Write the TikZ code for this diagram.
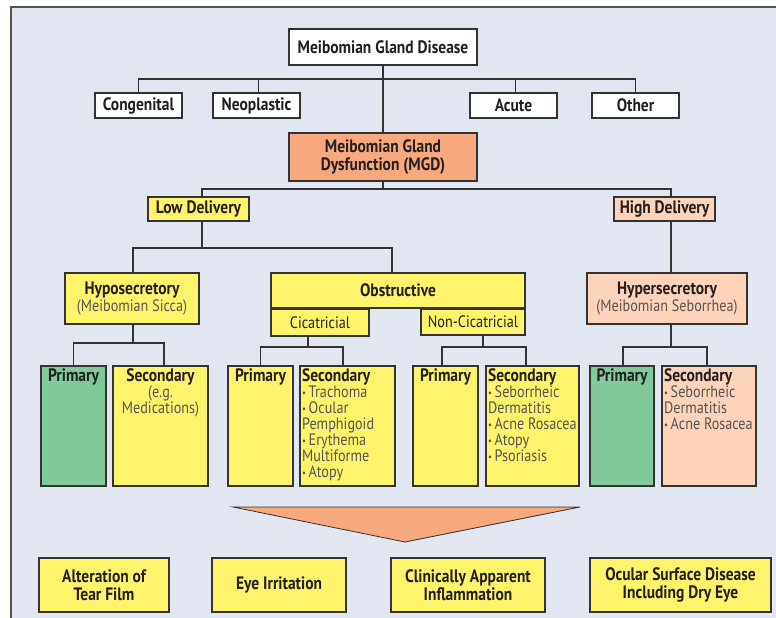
\documentclass[tikz,border=0pt]{standalone}
\usepackage{fontspec}
\setmainfont{PT Sans}[FakeStretch=0.86]
\definecolor{bgc}{HTML}{E2E6F1}
\definecolor{framec}{HTML}{555555}
\definecolor{linec}{HTML}{333333}
\definecolor{yel}{HTML}{FFF36B}
\definecolor{ora}{HTML}{F8A87D}
\definecolor{pea}{HTML}{FDD3B9}
\definecolor{grn}{HTML}{80C99B}
\definecolor{textc}{HTML}{231F20}
\definecolor{grayt}{HTML}{555555}
\newcommand\bul{\raisebox{1.5pt}{\fontsize{10}{10}\selectfont•}\,}
\newcommand\lite{\fontsize{16.5}{16}\selectfont\mdseries\color{grayt}}
\newcommand\hd[1]{{\fontsize{18}{16}\selectfont\bfseries\color{textc}#1}}
\tikzset{
  box/.style={draw=linec, line width=1.2pt, inner sep=0pt, text=textc, align=center,
    font=\fontsize{18}{18}\selectfont\bfseries},
  wire/.style={draw=linec, line width=1.2pt},
  lbl/.style={inner sep=0pt, text=textc, font=\fontsize{18}{16}\selectfont\bfseries},
  items/.style={inner sep=0pt, font=\lite, align=left, anchor=north west},
}
\begin{document}
\begin{tikzpicture}[x=1pt,y=-1pt]
\useasboundingbox (0,0) rectangle (776,618);
\fill[bgc] (11,7) rectangle (780,622);
\draw[framec, line width=2pt] (11,622) -- (11,7) -- (780,7);

% top level
\node[box, fill=white, minimum width=188pt, minimum height=36pt] (mgdis) at (383,47) {Meibomian Gland Disease};
\node[box, fill=white, minimum width=87pt, minimum height=25pt] (cong) at (138.5,105.5) {Congenital};
\node[box, fill=white, minimum width=87pt, minimum height=25pt] (neo) at (256.5,105.5) {Neoplastic};
\node[box, fill=white, minimum width=87pt, minimum height=25pt] (acu) at (513.5,105.5) {Acute};
\node[box, fill=white, minimum width=87pt, minimum height=25pt] (oth) at (635.5,105.5) {Other};
\node[box, fill=ora, minimum width=188pt, minimum height=48pt] (mgd) at (383,157) {Meibomian Gland\\Dysfunction (MGD)};

\coordinate (j1) at (383,79);
\draw[wire] (cong.north) |- (j1) -| (oth.north);
\draw[wire] ([xshift=2pt]neo.north) |- (j1);
\draw[wire] ([xshift=2pt]acu.north) |- (j1);
\draw[wire] (mgdis.south) -- (mgd.north);

% delivery
\node[box, fill=yel, minimum width=101pt, minimum height=24pt] (low) at (198.5,209) {Low Delivery};
\node[box, fill=pea, minimum width=101pt, minimum height=24pt] (high) at (664.5,209) {High Delivery};
\coordinate (j2) at (383,189);
\draw[wire] (mgd.south) -- (j2);
\draw[wire] ([xshift=3.5pt]low.north) |- (j2) -| ([xshift=6.5pt]high.north);

% second level
\node[box, fill=yel, minimum width=134pt, minimum height=51pt] (hypo) at (132,298.5) {Hyposecretory\\[-1pt]\lite(Meibomian Sicca)};
\node[box, fill=yel, minimum width=254pt, minimum height=35pt] (obs) at (398,290.5) {Obstructive};
\node[box, fill=yel, minimum width=98pt, minimum height=27pt, font=\lite] (cic) at (320,322.5) {Cicatricial};
\node[box, fill=yel, minimum width=104pt, minimum height=26pt, font=\lite] (ncic) at (473,322) {Non-Cicatricial};
\node[box, fill=pea, minimum width=160pt, minimum height=51pt] (hyper) at (667,298.5) {Hypersecretory\\[-1pt]\lite(Meibomian Seborrhea)};

\coordinate (j3) at (202,248);
\draw[wire] ([xshift=3.5pt]low.south) -- (j3);
\draw[wire] (j3) -| ([xshift=1pt]hypo.north);
\draw[wire] (j3) -| ([xshift=-6pt]obs.north);
\draw[wire] ([xshift=6.5pt]high.south) -- ([xshift=4pt]hyper.north);

% third level boxes
\tikzset{tall/.style={draw=linec, line width=1.2pt, inner sep=0pt, minimum height=120pt}}
\node[tall, fill=grn, minimum width=65pt] (hp1) at (73.5,426) {};
\node[tall, fill=yel, minimum width=95pt] (hp2) at (160.5,426) {};
\node[tall, fill=yel, minimum width=65pt] (cp1) at (260.5,426) {};
\node[tall, fill=yel, minimum width=95pt] (cp2) at (347.5,426) {};
\node[tall, fill=yel, minimum width=65pt] (np1) at (445.5,426) {};
\node[tall, fill=yel, minimum width=93pt] (np2) at (532.5,426) {};
\node[tall, fill=grn, minimum width=64pt] (rp1) at (622,426) {};
\node[tall, fill=pea, minimum width=94pt] (rp2) at (709,426) {};

\node[lbl, anchor=north] (hp1t) at ([yshift=-3.5pt]hp1.north) {Primary};
\node[items, anchor=north, align=center] (hp2t) at ([yshift=-3.5pt]hp2.north) {\hd{Secondary}\\(e.g.\\Medications)};
\node[lbl, anchor=north] (cp1t) at ([yshift=-3.5pt]cp1.north) {Primary};
\node[items] (cp2t) at ([xshift=2.5pt,yshift=-3.5pt]cp2.north west) {\hd{Secondary}\\\bul Trachoma\\\bul Ocular\\Pemphigoid\\\bul Erythema\\Multiforme\\\bul Atopy};
\node[lbl, anchor=north] (np1t) at ([yshift=-3.5pt]np1.north) {Primary};
\node[items] (np2t) at ([xshift=2.5pt,yshift=-3.5pt]np2.north west) {\hd{Secondary}\\\bul Seborrheic\\Dermatitis\\\bul Acne Rosacea\\\bul Atopy\\\bul Psoriasis};
\node[lbl, anchor=north] (rp1t) at ([yshift=-3.5pt]rp1.north) {Primary};
\node[items] (rp2t) at ([xshift=2.5pt,yshift=-3.5pt]rp2.north west) {\hd{Secondary}\\\bul Seborrheic\\Dermatitis\\\bul Acne Rosacea};

% third level connectors
\coordinate (k1) at (133,343);
\draw[wire] ([xshift=1pt]hypo.south) -- (k1);
\draw[wire] (hp1.north) |- (k1) -| ([xshift=3.5pt]hp2.north);
\coordinate (k2) at (308,347);
\draw[wire] ([xshift=-12pt]cic.south) -- (k2);
\draw[wire] (cp1.north) |- (k2) -| ([xshift=-4.5pt]cp2.north);
\coordinate (k3) at (483,347);
\draw[wire] ([xshift=10pt]ncic.south) -- (k3);
\draw[wire] ([xshift=-3.5pt]np1.north) |- (k3) -| ([xshift=-6.5pt]np2.north);
\coordinate (k4) at (671,347);
\draw[wire] ([xshift=4pt]hyper.south) -- (k4);
\draw[wire] ([xshift=1pt]rp1.north) |- (k4) -| ([xshift=-2pt]rp2.north);

% funnel
\draw[fill=ora, draw=linec, line width=0.8pt] (233,507) -- (580,507) -- (405,542) -- cycle;

% bottom outcomes
\node[box, fill=yel, minimum width=130pt, minimum height=54pt] (o1) at (104,585) {Alteration of\\Tear Film};
\node[box, fill=yel, minimum width=134pt, minimum height=54pt] (o2) at (279,585) {Eye Irritation};
\node[box, fill=yel, minimum width=154pt, minimum height=54pt] (o3) at (468,585) {Clinically Apparent\\Inflammation};
\node[box, fill=yel, minimum width=181pt, minimum height=54pt] (o4) at (680.5,585) {Ocular Surface Disease\\Including Dry Eye};
\end{tikzpicture}
\end{document}
